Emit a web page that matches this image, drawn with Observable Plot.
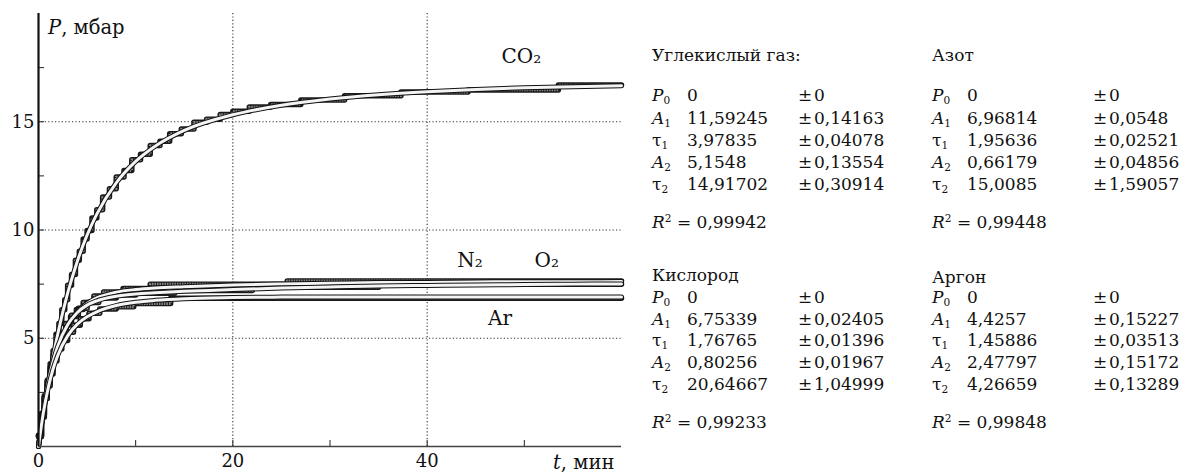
<!DOCTYPE html>
<html>
<head>
<meta charset="utf-8">
<script src="https://cdn.jsdelivr.net/npm/d3@7"></script>
<script src="https://cdn.jsdelivr.net/npm/@observablehq/plot@0.6"></script>
<style>
  html, body { margin: 0; padding: 0; background: #fff; }
  #wrap { position: relative; width: 1185px; height: 472px; font-family: "DejaVu Serif", serif; color: #111; }
  .t { position: absolute; white-space: nowrap; font-size: 17px; line-height: 22px; }
  sub { font-size: 0.62em; vertical-align: -0.25em; line-height: 0; }
  sup { font-size: 0.62em; vertical-align: 0.55em; line-height: 0; }
</style>
</head>
<body>
<div id="wrap"></div>
<script>
// ---- fitted curves ----
const tFit = [0, 0.5, 1, 1.5, 2, 3, 4, 5, 6, 8, 10, 12, 15, 20, 25, 30, 35, 40, 45, 50, 55, 60];
const fitCO2 = [0, 1.54, 2.91, 4.13, 5.23, 7.08, 8.56, 9.76, 10.73, 12.18, 13.17, 13.87, 14.60, 15.32, 15.76, 16.05, 16.25, 16.39, 16.49, 16.57, 16.62, 16.66];
const fitN2  = [0, 1.59, 2.83, 3.79, 4.54, 5.59, 6.22, 6.61, 6.86, 7.13, 7.25, 7.32, 7.38, 7.46, 7.51, 7.54, 7.57, 7.58, 7.60, 7.61, 7.61, 7.62];
const fitO2  = [0, 1.68, 2.96, 3.92, 4.65, 5.62, 6.19, 6.53, 6.73, 6.94, 7.04, 7.10, 7.17, 7.25, 7.32, 7.37, 7.41, 7.44, 7.46, 7.48, 7.50, 7.51];
const fitAr  = [0, 1.56, 2.71, 3.58, 4.23, 5.11, 5.65, 5.99, 6.22, 6.51, 6.66, 6.75, 6.83, 6.88, 6.90, 6.90, 6.90, 6.90, 6.90, 6.90, 6.90, 6.90];

// ---- measured (stepped) data ----
const tCO2 = [0, 0.3, 0.6, 0.9, 1.2, 1.5, 1.8, 2.1, 2.4, 2.7, 3.0, 3.4, 3.8, 4.2, 4.6, 5.0, 5.5, 6.0, 6.6, 7.3, 8.0, 8.8, 9.6, 10.5, 11.5, 12.5, 13.5, 14.7, 16, 17.3, 18.7, 20, 21.7, 23.9, 27, 31.5, 37.3, 44.2, 53.5, 60];
const pCO2 = [0.45, 1.35, 2.3, 3.0, 3.82, 4.42, 5.18, 5.68, 6.32, 6.78, 7.45, 7.94, 8.6, 9.02, 9.58, 9.98, 10.55, 10.93, 11.52, 11.9, 12.45, 12.75, 13.24, 13.5, 13.9, 14.1, 14.45, 14.66, 14.98, 15.12, 15.33, 15.48, 15.68, 15.8, 16.0, 16.2, 16.37, 16.47, 16.7, 16.7];
const tN2 = [0, 0.3, 0.6, 0.9, 1.2, 1.5, 1.9, 2.3, 2.8, 3.3, 3.9, 4.6, 5.7, 6.7, 8.7, 11.5, 25.6, 60];
const pN2 = [0.5, 1.45, 2.25, 2.93, 3.52, 4.1, 4.65, 5.15, 5.62, 6.0, 6.33, 6.65, 6.95, 7.14, 7.3, 7.5, 7.65, 7.65];
const tO2 = [0, 0.3, 0.6, 0.9, 1.2, 1.5, 1.9, 2.3, 2.8, 3.4, 4.1, 5.0, 6.2, 8.0, 10, 14, 22, 35, 60];
const pO2 = [0.52, 1.53, 2.36, 3.06, 3.65, 4.22, 4.78, 5.22, 5.68, 6.06, 6.38, 6.65, 6.86, 7.0, 7.08, 7.2, 7.35, 7.5, 7.5];
const tAr = [0, 0.3, 0.6, 0.9, 1.2, 1.5, 1.9, 2.4, 3.0, 3.6, 4.3, 5.2, 6.3, 8.0, 9.8, 13.6, 60];
const pAr = [0.5, 1.45, 2.2, 2.8, 3.35, 3.95, 4.5, 4.9, 5.28, 5.6, 5.9, 6.15, 6.35, 6.45, 6.6, 6.85, 6.85];

// ---- curve labels ----
const labelNames = ["CO₂", "N₂", "O₂", "Ar"];
const labelT = [49.7, 44.4, 52.3, 47.5];
const labelP = [18.0, 8.57, 8.57, 5.9];

// ---- axis ticks ----
const xTickLabels = [0, 20, 40];
const xMinorTicks = [10, 20, 30, 40, 50];
const yTickLabels = [5, 10, 15];
const yMinorTicks = [2.5, 5, 7.5, 10, 12.5, 15, 17.5];
const xGrid = [20, 40];
const yGrid = [5, 10, 15];

// ---- fit tables ----
const paramNames = ["<i>P</i><sub>0</sub>", "<i>A</i><sub>1</sub>", "τ<sub>1</sub>", "<i>A</i><sub>2</sub>", "τ<sub>2</sub>"];
const gasTitles = ["Углекислый газ:", "Азот", "Кислород", "Аргон"];
const valsCO2 = ["0", "11,59245", "3,97835", "5,1548", "14,91702"];
const errsCO2 = ["0", "0,14163", "0,04078", "0,13554", "0,30914"];
const valsN2 = ["0", "6,96814", "1,95636", "0,66179", "15,0085"];
const errsN2 = ["0", "0,0548", "0,02521", "0,04856", "1,59057"];
const valsO2 = ["0", "6,75339", "1,76765", "0,80256", "20,64667"];
const errsO2 = ["0", "0,02405", "0,01396", "0,01967", "1,04999"];
const valsAr = ["0", "4,4257", "1,45886", "2,47797", "4,26659"];
const errsAr = ["0", "0,15227", "0,03513", "0,15172", "0,13289"];
const r2 = ["0,99942", "0,99448", "0,99233", "0,99848"];

const zip = (xs, ys) => xs.map((x, i) => ({t: x, p: ys[i]}));
const fits = [fitCO2, fitN2, fitO2, fitAr].map(f => zip(tFit, f));
const datas = [zip(tCO2, pCO2), zip(tN2, pN2), zip(tO2, pO2), zip(tAr, pAr)];
const labels = labelNames.map((n, i) => ({n, t: labelT[i], p: labelP[i]}));

const dataMarks = datas.flatMap(d => [
  Plot.line(d, {x: "t", y: "p", curve: "step-after", stroke: "#1a1a1a", strokeWidth: 5.5, strokeLinecap: "round", strokeLinejoin: "round"}),
  Plot.line(d, {x: "t", y: "p", curve: "step-after", stroke: "#8a8a8a", strokeWidth: 2.6, strokeDasharray: "1.5,1", strokeLinecap: "butt"})
]);
const fitMarks = fits.flatMap(d => [
  Plot.line(d, {x: "t", y: "p", curve: "monotone-x", stroke: "#111", strokeWidth: 5, strokeLinecap: "round"}),
  Plot.line(d, {x: "t", y: "p", curve: "monotone-x", stroke: "#f4f4f4", strokeWidth: 3, strokeLinecap: "round"})
]);

const chart = Plot.plot({
  width: 1185,
  height: 472,
  marginLeft: 38,
  marginRight: 564,
  marginTop: 13,
  marginBottom: 26,
  style: {fontFamily: "DejaVu Serif, serif", fontSize: "18px", color: "#111", background: "transparent"},
  x: {domain: [0, 60]},
  y: {domain: [0, 20]},
  marks: [
    Plot.ruleX(xGrid, {stroke: "#333", strokeWidth: 1.1, strokeDasharray: "1.2,2.2"}),
    Plot.ruleY(yGrid, {stroke: "#333", strokeWidth: 1.1, strokeDasharray: "1.2,2.2"}),
    ...dataMarks,
    ...fitMarks,
    Plot.text(labels, {x: "t", y: "p", text: "n", fontSize: 20, fill: "#111"}),
    Plot.axisX({ticks: xTickLabels, tickSize: 0, tickPadding: 8, label: null, fontSize: 18}),
    Plot.axisX({ticks: xMinorTicks, tickSize: 6, dy: -6, tickFormat: () => "", label: null, stroke: "#222"}),
    Plot.axisY({ticks: yTickLabels, tickSize: 0, tickPadding: 4, label: null, fontSize: 18}),
    Plot.axisY({ticks: yMinorTicks, tickSize: 6, dx: 6, tickFormat: () => "", label: null, stroke: "#222"}),
    Plot.ruleY([0], {stroke: "#444", strokeWidth: 1.6}),
    Plot.ruleX([0], {stroke: "#111", strokeWidth: 2.2})
  ]
});

const wrap = document.getElementById("wrap");
wrap.appendChild(chart);

function addText(html, left, cy, extraStyle) {
  const d = document.createElement("div");
  d.className = "t";
  d.innerHTML = html;
  d.style.left = left + "px";
  d.style.top = (cy - 11) + "px";
  if (extraStyle) d.style.cssText += extraStyle;
  wrap.appendChild(d);
}

addText("<i>P</i>, мбар", 48, 28, "font-size:19.5px;");
addText("<i>t</i>, мин", 553, 463, "font-size:19.5px;");

const blocks = [
  {vals: valsCO2, errs: errsCO2, x: 652, xv: 687, xe: 798, ty: 55, rows: [95, 117.5, 140, 162, 184], ry: 222},
  {vals: valsN2, errs: errsN2, x: 932, xv: 967, xe: 1093, ty: 55, rows: [95, 117.5, 140, 162, 184], ry: 222},
  {vals: valsO2, errs: errsO2, x: 652, xv: 687, xe: 798, ty: 275, rows: [297, 318.5, 340, 362, 384], ry: 422},
  {vals: valsAr, errs: errsAr, x: 932, xv: 967, xe: 1093, ty: 277, rows: [297, 318.5, 340, 362, 384], ry: 422}
];
blocks.forEach((b, i) => {
  addText(gasTitles[i], b.x, b.ty);
  b.rows.forEach((y, j) => {
    addText(paramNames[j], b.x, y);
    addText(b.vals[j], b.xv, y);
    addText("±&#8202;" + b.errs[j], b.xe, y);
  });
  addText("<i>R</i><sup>2</sup> = " + r2[i], b.x, b.ry);
});
</script>
</body>
</html>
